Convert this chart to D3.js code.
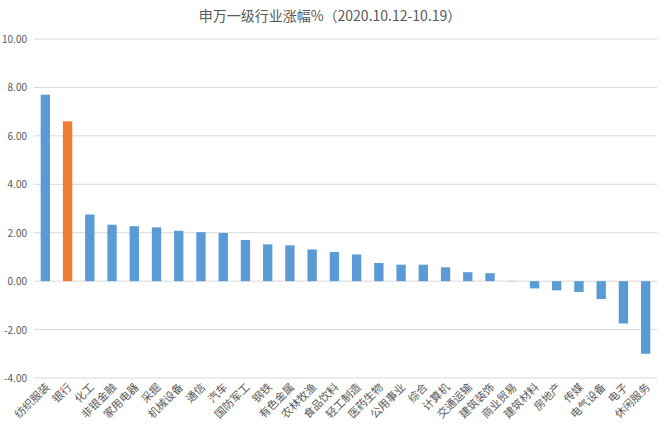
<!DOCTYPE html><html><head><meta charset="utf-8"><script src="https://d3js.org/d3.v7.min.js"></script>
<style>body{margin:0;background:#fff}</style></head><body><svg id="c" width="660" height="433"></svg><script>
const categories=["纺织服装","银行","化工","非银金融","家用电器","采掘","机械设备","通信","汽车","国防军工","钢铁","有色金属","农林牧渔","食品饮料","轻工制造","医药生物","公用事业","综合","计算机","交通运输","建筑装饰","商业贸易","建筑材料","房地产","传媒","电气设备","电子","休闲服务"];
const values=[7.7,6.6,2.75,2.33,2.27,2.22,2.08,2.02,1.99,1.7,1.52,1.48,1.31,1.2,1.1,0.75,0.68,0.68,0.57,0.37,0.33,0.01,-0.3,-0.38,-0.45,-0.74,-1.75,-3.0];
const yTicks=[-4,-2,0,2,4,6,8,10];
const highlight="银行";
const svg=d3.select("#c");
const font="'Noto Sans CJK SC','Noto Sans',sans-serif";
const x=d3.scaleBand().domain(categories).range([34,657]).paddingInner(0.58).paddingOuter(0.3);
const y=d3.scaleLinear().domain([-4,10]).range([378,39]);
svg.append("text").attr("x",330).attr("y",21).attr("text-anchor","middle").attr("font-family",font).attr("font-size",14).attr("fill","#595959").text("申万一级行业涨幅%（2020.10.12-10.19）");
const g=svg.append("g");
g.selectAll("line.g").data(yTicks).join("line").attr("x1",34).attr("x2",657).attr("y1",d=>y(d)).attr("y2",d=>y(d)).attr("stroke","#d9d9d9");
g.selectAll("text.t").data(yTicks).join("text").attr("x",27).attr("y",d=>y(d)+4).attr("text-anchor","end").attr("font-family",font).attr("font-size",10).attr("fill","#595959").text(d=>d.toFixed(2));
g.selectAll("rect").data(values).join("rect").attr("x",(d,i)=>x(categories[i])).attr("width",x.bandwidth()).attr("y",d=>y(Math.max(0,d))).attr("height",d=>Math.abs(y(d)-y(0))).attr("fill",(d,i)=>categories[i]===highlight?"#ed7d31":"#5b9bd5");
g.selectAll("text.c").data(categories).join("text").attr("font-family",font).attr("font-size",11).attr("fill","#595959").attr("text-anchor","end")
 .attr("transform",d=>`translate(${x(d)+x.bandwidth()/2+5},${388}) rotate(-45)`).text(d=>d);
</script></body></html>
